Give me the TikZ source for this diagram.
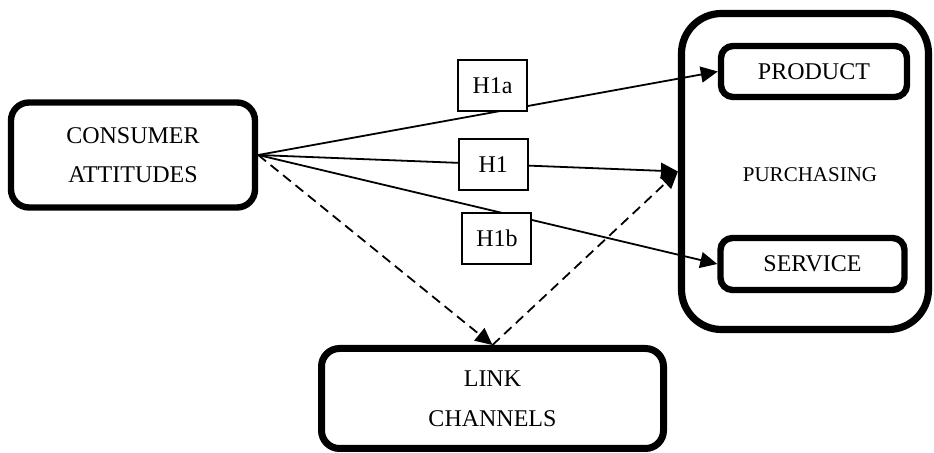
\documentclass[tikz,border=0pt]{standalone}
\usepackage{fontspec}
\setmainfont{Liberation Serif}
\usetikzlibrary{arrows.meta}

\begin{document}
\begin{tikzpicture}[x=0.5pt,y=-0.5pt]
        \tikzset{block/.style = {shape=rectangle,draw,line width=3.2pt,rounded corners=9pt,align=center,inner sep=0pt,font=\fontsize{12}{19.5}\selectfont}}
        \tikzset{outer/.style = {shape=rectangle,draw,line width=3.6pt,rounded corners=20pt,minimum width=123.5pt,minimum height=158pt}}
        \tikzset{hyp/.style = {shape=rectangle,draw,line width=1pt,fill=white,minimum width=34.5pt,minimum height=25.5pt,inner sep=0pt,font=\fontsize{12}{14}\selectfont}}
        \tikzset{edge/.style = {-{Triangle[length=8.5pt,width=8pt]},line width=0.9pt}}
        \tikzset{edged/.style = {edge,dash pattern=on 5pt off 3pt}}
        \useasboundingbox (0,0) rectangle (934,453);
        % blocks
        \node[block,minimum width=122pt,minimum height=52.5pt] (cons) at (133,155) {CONSUMER\\ATTITUDES};
        \node[outer] (purch) at (805,171.5) {};
        \node[font=\fontsize{10.5}{12}\selectfont] (purlabel) at (810,175) {PURCHASING};
        \node[block,minimum width=93pt,minimum height=25.5pt,rounded corners=6pt] (prod) at (814,71.5) {PRODUCT};
        \node[block,minimum width=92pt,minimum height=26pt,rounded corners=6pt] (serv) at (812.5,264) {SERVICE};
        \node[block,line width=3.5pt,minimum width=171pt,minimum height=50pt,font=\fontsize{12}{20}\selectfont] (link) at (492.5,398.5) {LINK\\CHANNELS};

        % edges with hypotheses
        \draw[edge] (cons.east) -- node[hyp,above,pos=0.51] (h1a) {H1a} (prod.west);
        \draw[edge] (cons.east) -- node[hyp,pos=0.56] (h1) {H1} (purch.west);
        \draw[edge] (cons.east) -- node[hyp,below,pos=0.52] (h1b) {H1b} (serv.west);
        % edges dashed
        \draw[edged] (cons.east) -- (link.north);
        \draw[edged] (link.north) -- (purch.west);
\end{tikzpicture}
\end{document}
